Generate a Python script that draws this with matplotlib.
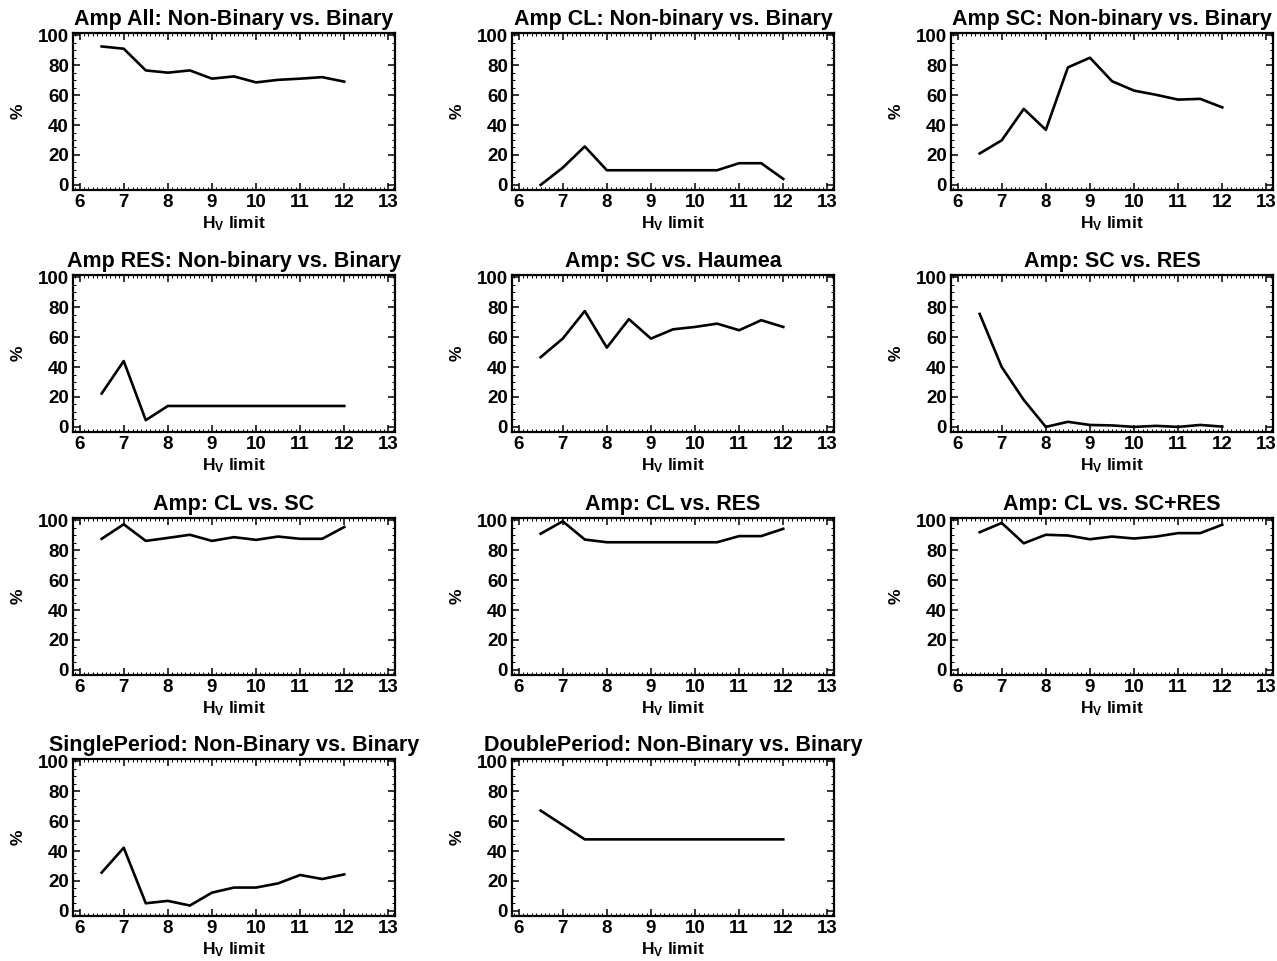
import numpy as np
import matplotlib
matplotlib.use('Agg')
import matplotlib.pyplot as plt
from matplotlib.ticker import MultipleLocator

plt.rcParams['font.family'] = ['Liberation Sans', 'DejaVu Sans']
plt.rcParams['font.weight'] = 'bold'
plt.rcParams['mathtext.fontset'] = 'custom'
plt.rcParams['mathtext.rm'] = 'Liberation Sans:bold'
plt.rcParams['mathtext.bf'] = 'Liberation Sans:bold'
plt.rcParams['mathtext.it'] = 'Liberation Sans:bold'

hv = [6.5, 7.0, 7.5, 8.0, 8.5, 9.0, 9.5, 10.0, 10.5, 11.0, 11.5, 12.0]

titles = [
    'Amp All: Non-Binary vs. Binary',
    'Amp CL: Non-binary vs. Binary',
    'Amp SC: Non-binary vs. Binary',
    'Amp RES: Non-binary vs. Binary',
    'Amp: SC vs. Haumea',
    'Amp: SC vs. RES',
    'Amp: CL vs. SC',
    'Amp: CL vs. RES',
    'Amp: CL vs. SC+RES',
    'SinglePeriod: Non-Binary vs. Binary',
    'DoublePeriod: Non-Binary vs. Binary',
]

amp_all = [92.5, 91, 76.5, 75, 76.5, 71, 72.5, 68.5, 70.2, 71, 72, 69]
amp_cl = [0, 11.5, 25.7, 9.8, 9.8, 9.8, 9.8, 9.8, 9.8, 14.5, 14.5, 4]
amp_sc = [21, 29.8, 50.8, 36.8, 78.5, 85, 69.3, 63, 60.2, 57, 57.5, 51.8]
amp_res = [22.3, 44, 4.5, 14, 14, 14, 14, 14, 14, 14, 14, 14]
sc_haumea = [46.6, 59, 77.4, 53, 72, 59, 65.2, 66.8, 69, 64.6, 71.3, 66.8]
sc_res = [75.5, 40, 18, 0, 3.4, 1.3, 1, 0, 0.7, 0, 1.3, 0.2]
cl_sc = [87.6, 97.3, 86.2, 88.2, 90.3, 86.2, 88.7, 86.9, 89.1, 87.6, 87.6, 95.5]
cl_res = [91, 99.3, 87.1, 85.3, 85.3, 85.3, 85.3, 85.3, 85.3, 89.4, 89.4, 94.3]
cl_scres = [92, 98.2, 84.6, 90.3, 89.8, 87.3, 89.1, 87.8, 89.1, 91.4, 91.4, 97]
single_p = [25.6, 42.2, 5.1, 6.7, 3.6, 12.2, 15.6, 15.6, 18.4, 24, 21.3, 24.4]
double_p = [67, 57.4, 47.8, 47.8, 47.8, 47.8, 47.8, 47.8, 47.8, 47.8, 47.8, 47.8]

series = [amp_all, amp_cl, amp_sc, amp_res, sc_haumea, sc_res,
          cl_sc, cl_res, cl_scres, single_p, double_p]

W, H = 1277, 961
fig = plt.figure(figsize=(W / 100, H / 100), dpi=100, facecolor='white')

col_left = [73, 512, 951]
row_top = [33, 275, 518, 759]
ax_w, ax_h = 322, 157

for i, (title, vals) in enumerate(zip(titles, series)):
    r, c = divmod(i, 3)
    left = col_left[c] / W
    bottom = 1 - (row_top[r] + ax_h) / H
    ax = fig.add_axes([left, bottom, ax_w / W, ax_h / H])
    ax.plot(hv, vals, color='black', lw=1.9)
    ax.set_xlim(5.85, 13.15)
    ax.set_ylim(-3.4, 101.5)
    ax.xaxis.set_major_locator(MultipleLocator(1))
    ax.xaxis.set_minor_locator(MultipleLocator(0.1))
    ax.yaxis.set_major_locator(MultipleLocator(20))
    ax.yaxis.set_minor_locator(MultipleLocator(5))
    ax.tick_params(which='both', direction='in', top=True, right=True,
                   labelsize=13.5, width=1.1, pad=3)
    ax.tick_params(which='major', length=5)
    ax.tick_params(which='minor', length=2.2, width=0.7)
    for s in ax.spines.values():
        s.set_linewidth(1.6)
    for lab in ax.get_xticklabels() + ax.get_yticklabels():
        lab.set_fontweight('bold')
    ax.set_title(title, fontsize=15.5, fontweight='bold', pad=6)
    ax.set_xlabel(r'H$_\mathrm{V}$ limit', fontsize=12.5, fontweight='bold', labelpad=2)
    ax.set_ylabel('%', fontsize=12.5, fontweight='bold', labelpad=9)

fig.savefig('out.png', dpi=100, facecolor='white')
